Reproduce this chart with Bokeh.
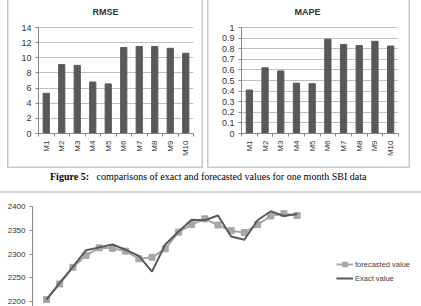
import math
from bokeh.plotting import figure
from bokeh.models import Range1d, FixedTicker, Legend, LegendItem, Title, Div, Spacer
from bokeh.layouts import column, row
from bokeh.embed import file_html
from bokeh.resources import INLINE

# ---------------- data ----------------
models = ["M1", "M2", "M3", "M4", "M5", "M6", "M7", "M8", "M9", "M10"]
rmse = [5.3, 9.1, 9.0, 6.8, 6.55, 11.35, 11.5, 11.5, 11.25, 10.6]
mape = [0.41, 0.62, 0.59, 0.475, 0.47, 0.89, 0.84, 0.83, 0.87, 0.825]

rmse_ticks = [0, 2, 4, 6, 8, 10, 12, 14]
rmse_tick_labels = ["0", "2", "4", "6", "8", "10", "12", "14"]
mape_ticks = [0, 0.1, 0.2, 0.3, 0.4, 0.5, 0.6, 0.7, 0.8, 0.9, 1.0]
mape_tick_labels = ["0", "0.1", "0.2", "0.3", "0.4", "0.5", "0.6", "0.7", "0.8", "0.9", "1"]

day = [1, 2, 3, 4, 5, 6, 7, 8, 9, 10, 11, 12, 13, 14, 15, 16, 17, 18, 19, 20]
forecasted = [2204, 2237, 2272, 2297, 2313, 2312, 2306, 2290, 2293, 2311,
              2346, 2362, 2374, 2361, 2349, 2345, 2362, 2380, 2385, 2381]
exact = [2204, 2239, 2273, 2308, 2314, 2320, 2309, 2296, 2263, 2320,
         2347, 2372, 2371, 2381, 2337, 2330, 2371, 2390, 2380, 2384]
price_ticks = [2200, 2250, 2300, 2350, 2400]

caption_bold = "Figure 5:"
caption_text = "comparisons of exact and forecasted values for one month SBI data"

FONT = "Liberation Sans"
AXIS_COLOR = "#868686"
LABEL_COLOR = "#333333"
BORDER = "#c8c8c8"
H = 168            # height of the bar panels
FT = 20            # frame top (title band above)
TOP_TICK_Y = 27    # pixel row of the top tick/gridline
FB = 133           # frame bottom


def bar_panel(title, vals, ticks, tick_labels, ymax, width, frame_left, frame_right, title_offset):
    y_end = ymax * (FB - FT) / (FB - TOP_TICK_Y)
    p = figure(width=width, height=H, x_range=Range1d(0, len(models)), y_range=Range1d(0, y_end),
               output_backend="svg", toolbar_location=None,
               min_border_left=frame_left, min_border_right=width - frame_right,
               min_border_top=FT, min_border_bottom=H - FB,
               styles={"box-shadow": f"inset 1.5px 0 0 {BORDER}, inset -1.5px 0 0 {BORDER}, inset 0 -1.5px 0 {BORDER}"})
    p.outline_line_color = None
    p.border_fill_color = None
    p.background_fill_color = None
    centers = [i + 0.5 for i in range(len(models))]
    p.vbar(x=centers, top=vals, width=0.4, fill_color="#595959", line_color="#595959")

    xa = p.xaxis[0]
    xa.ticker = FixedTicker(ticks=centers, minor_ticks=list(range(len(models) + 1)))
    xa.major_label_overrides = {c: m for c, m in zip(centers, models)}
    xa.major_label_orientation = math.pi / 2
    xa.major_tick_out = 0
    xa.major_tick_in = 0
    xa.minor_tick_out = 3
    xa.minor_tick_in = 0
    xa.minor_tick_line_color = AXIS_COLOR
    xa.major_label_standoff = 4
    xa.major_label_text_font_size = "8px"

    ya = p.yaxis[0]
    ya.ticker = FixedTicker(ticks=ticks)
    ya.bounds = (0, ymax)
    ya.major_label_overrides = {t: l for t, l in zip(ticks, tick_labels)}
    ya.major_tick_out = 3
    ya.major_tick_in = 0
    ya.minor_tick_out = 0
    ya.minor_tick_in = 0
    ya.major_label_standoff = 4
    ya.major_label_text_font_size = "9px"

    for ax in (xa, ya):
        ax.axis_line_color = AXIS_COLOR
        ax.major_tick_line_color = AXIS_COLOR
        ax.major_label_text_font = FONT
        ax.major_label_text_color = LABEL_COLOR

    p.xgrid.visible = False
    p.ygrid.grid_line_color = "#c0c0c0"

    p.add_layout(Title(text=title, align="left", offset=title_offset,
                       text_font=FONT, text_font_style="bold", text_font_size="9px",
                       text_color=LABEL_COLOR, standoff=7), "above")
    return p


# left panel spans page x 7..203, right panel 207..410
p1 = bar_panel("RMSE", rmse, rmse_ticks, rmse_tick_labels, 14, 196, 31, 186, 54)
p2 = bar_panel("MAPE", mape, mape_ticks, mape_tick_labels, 1.0, 203, 34, 191, 53)

cap = Div(width=421, height=25, margin=0, text=(
    '<div style="width:421px;height:23px;border-bottom:2px solid #d6d6d6;text-align:left;'
    'font-family:\'Liberation Serif\';font-size:10px;line-height:12px;color:#000;white-space:nowrap;">'
    '<div style="padding-left:50px;padding-top:1px;text-align:left;font-size:10px;">'
    f'<b>{caption_bold}</b>&nbsp;&nbsp; {caption_text}</div></div>'))

# ---------------- line chart ----------------
H3 = 113
FL3, FT3 = 32, 13
p3 = figure(width=421, height=H3, x_range=Range1d(-0.061, 29.43), y_range=Range1d(2189.5, 2400),
            output_backend="svg", toolbar_location=None, x_axis_location=None,
            min_border_left=FL3, min_border_right=0, min_border_top=FT3, min_border_bottom=0)
p3.outline_line_color = None
p3.xgrid.visible = False
p3.ygrid.visible = False
r1 = p3.line(day, forecasted, line_color="#a6a6a6", line_width=2)
r2 = p3.scatter(day, forecasted, marker="square", size=6, fill_color="#a6a6a6", line_color="#a6a6a6")
r3 = p3.line(day, exact, line_color="#595959", line_width=2)

ya3 = p3.yaxis[0]
ya3.ticker = FixedTicker(ticks=price_ticks)
ya3.axis_line_color = AXIS_COLOR
ya3.major_tick_line_color = AXIS_COLOR
ya3.major_tick_out = 3
ya3.major_tick_in = 0
ya3.minor_tick_out = 0
ya3.minor_tick_in = 0
ya3.major_label_standoff = 4
ya3.major_label_text_font = FONT
ya3.major_label_text_font_size = "8px"
ya3.major_label_text_color = LABEL_COLOR

legend = Legend(items=[LegendItem(label="forecasted value", renderers=[r1, r2]),
                       LegendItem(label="Exact value", renderers=[r3])],
                location=(304, 22), padding=0, margin=0, spacing=2,
                glyph_width=17, glyph_height=12, label_height=12, label_standoff=2,
                label_text_font=FONT, label_text_font_size="7.5px", label_text_color="#404040",
                border_line_color=None, background_fill_alpha=0)
p3.add_layout(legend)

layout = column(
    row(Spacer(width=7, height=H), p1, Spacer(width=4, height=H), p2, spacing=0),
    cap,
    p3,
    spacing=0,
)
open("out.html", "w").write(file_html(layout, INLINE))
